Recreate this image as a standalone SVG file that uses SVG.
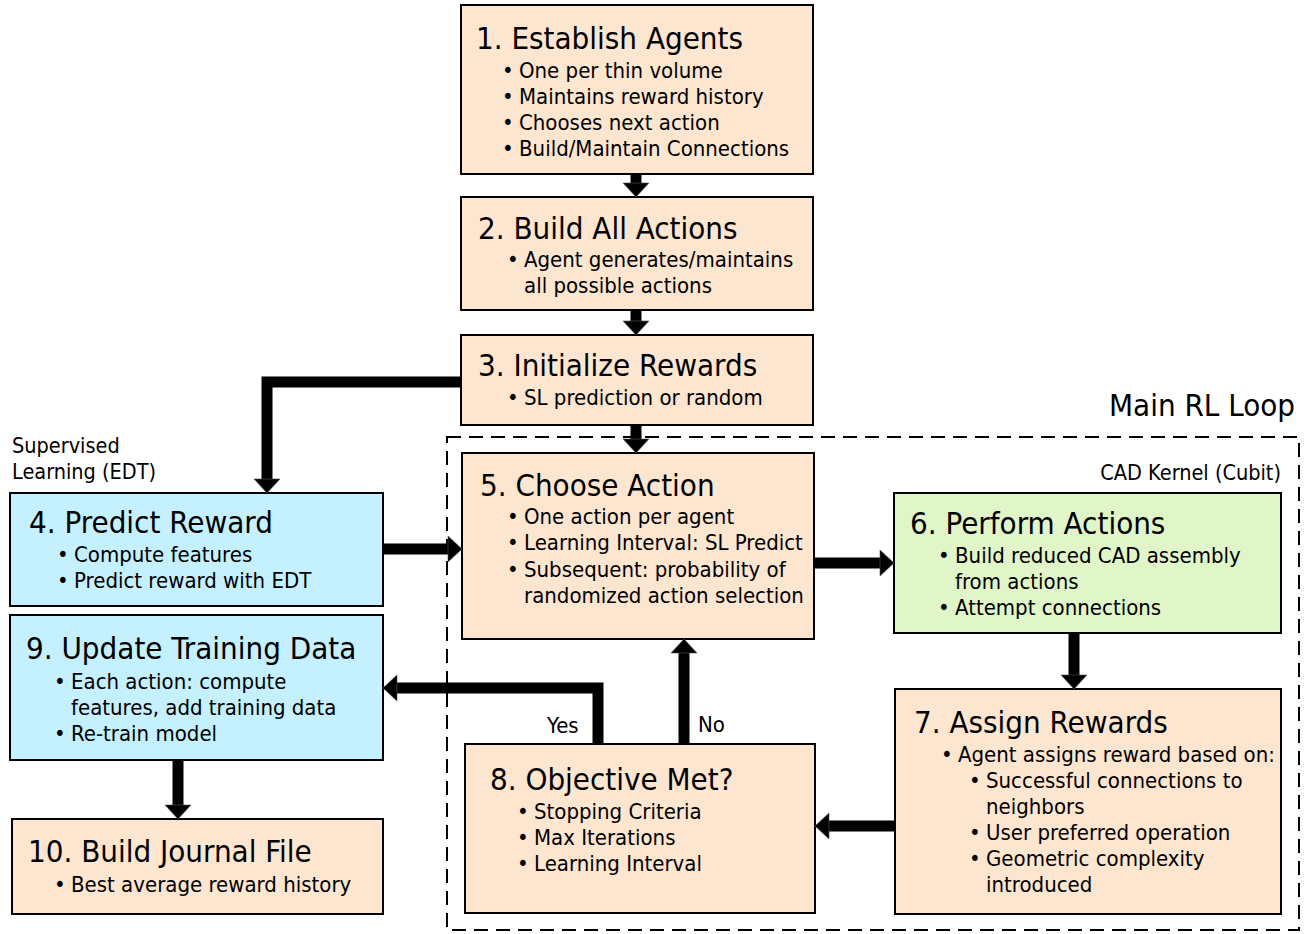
<svg xmlns="http://www.w3.org/2000/svg" width="1307" height="934" viewBox="0 0 1307 934">
<style>
text{font-family:"DejaVu Sans Condensed","DejaVu Sans",sans-serif;fill:#000}
.t{font-size:31px}
.b{font-size:22px}
.s{font-size:21.5px}
.peach{fill:#FDE6D0;stroke:#000;stroke-width:2}
.blue{fill:#C4F0FF;stroke:#000;stroke-width:2}
.green{fill:#E0F5C8;stroke:#000;stroke-width:2}
.dash{fill:none;stroke:#000;stroke-width:2;stroke-dasharray:14 8}
.c{fill:none;stroke:#000;stroke-width:11;stroke-linejoin:miter;stroke-linecap:butt}
.h{fill:#000;stroke:#555;stroke-width:0.6}
</style>
<rect x="0" y="0" width="1307" height="934" fill="#fff"/>
<g id="loop">
<rect class="dash" x="447" y="437" width="852" height="493"/>
<text class="t" x="1295" y="416" text-anchor="end">Main RL Loop</text>
<text class="s" x="1281" y="480" text-anchor="end">CAD Kernel (Cubit)</text>
</g>
<g id="sl-label">
<text class="s" x="12" y="453">Supervised</text>
<text class="s" x="12" y="479">Learning (EDT)</text>
</g>
<g id="n1">
<rect class="peach" x="461" y="5" width="352" height="169"/>
<text class="t" x="476" y="49">1. Establish Agents</text>
<text class="b" x="502" y="78">•</text><text class="b" x="519" y="78">One per thin volume</text>
<text class="b" x="502" y="104">•</text><text class="b" x="519" y="104">Maintains reward history</text>
<text class="b" x="502" y="130">•</text><text class="b" x="519" y="130">Chooses next action</text>
<text class="b" x="502" y="156">•</text><text class="b" x="519" y="156">Build/Maintain Connections</text>
</g>
<g id="n2">
<rect class="peach" x="461" y="197" width="352" height="113"/>
<text class="t" x="478" y="239">2. Build All Actions</text>
<text class="b" x="507" y="267">•</text><text class="b" x="524" y="267">Agent generates/maintains</text>
<text class="b" x="524" y="293">all possible actions</text>
</g>
<g id="n3">
<rect class="peach" x="461" y="335" width="352" height="90"/>
<text class="t" x="478" y="376">3. Initialize Rewards</text>
<text class="b" x="507" y="405">•</text><text class="b" x="524" y="405">SL prediction or random</text>
</g>
<g id="n4">
<rect class="blue" x="10" y="493" width="373" height="113"/>
<text class="t" x="29" y="533">4. Predict Reward</text>
<text class="b" x="57" y="562">•</text><text class="b" x="74" y="562">Compute features</text>
<text class="b" x="57" y="588">•</text><text class="b" x="74" y="588">Predict reward with EDT</text>
</g>
<g id="n5">
<rect class="peach" x="462" y="453" width="352" height="186"/>
<text class="t" x="480" y="496">5. Choose Action</text>
<text class="b" x="507" y="524">•</text><text class="b" x="524" y="524">One action per agent</text>
<text class="b" x="507" y="550">•</text><text class="b" x="524" y="550">Learning Interval: SL Predict</text>
<text class="b" x="507" y="577">•</text><text class="b" x="524" y="577">Subsequent: probability of</text>
<text class="b" x="524" y="603">randomized action selection</text>
</g>
<g id="n6">
<rect class="green" x="894" y="493" width="387" height="140"/>
<text class="t" x="910" y="534">6. Perform Actions</text>
<text class="b" x="938" y="563">•</text><text class="b" x="955" y="563">Build reduced CAD assembly</text>
<text class="b" x="955" y="589">from actions</text>
<text class="b" x="938" y="615">•</text><text class="b" x="955" y="615">Attempt connections</text>
</g>
<g id="n7">
<rect class="peach" x="895" y="689" width="386" height="225"/>
<text class="t" x="914" y="733">7. Assign Rewards</text>
<text class="b" x="941" y="762">•</text><text class="b" x="958" y="762">Agent assigns reward based on:</text>
<text class="b" x="969" y="788">•</text><text class="b" x="986" y="788">Successful connections to</text>
<text class="b" x="986" y="814">neighbors</text>
<text class="b" x="969" y="840">•</text><text class="b" x="986" y="840">User preferred operation</text>
<text class="b" x="969" y="866">•</text><text class="b" x="986" y="866">Geometric complexity</text>
<text class="b" x="986" y="892">introduced</text>
</g>
<g id="n8">
<rect class="peach" x="465" y="744" width="350" height="169"/>
<text class="t" x="490" y="790">8. Objective Met?</text>
<text class="b" x="517" y="819">•</text><text class="b" x="534" y="819">Stopping Criteria</text>
<text class="b" x="517" y="845">•</text><text class="b" x="534" y="845">Max Iterations</text>
<text class="b" x="517" y="871">•</text><text class="b" x="534" y="871">Learning Interval</text>
</g>
<g id="n9">
<rect class="blue" x="10" y="615" width="373" height="145"/>
<text class="t" x="26" y="659">9. Update Training Data</text>
<text class="b" x="54" y="689">•</text><text class="b" x="71" y="689">Each action: compute</text>
<text class="b" x="71" y="715">features, add training data</text>
<text class="b" x="54" y="741">•</text><text class="b" x="71" y="741">Re-train model</text>
</g>
<g id="n10">
<rect class="peach" x="12" y="819" width="371" height="95"/>
<text class="t" x="28" y="862">10. Build Journal File</text>
<text class="b" x="54" y="892">•</text><text class="b" x="71" y="892">Best average reward history</text>
</g>
<g id="connectors">
<path class="c" d="M636,175 V184"/><polygon class="h" points="623,183 649,183 636,197"/>
<path class="c" d="M636,311 V322"/><polygon class="h" points="623,321 649,321 636,335"/>
<path class="c" d="M636,426 V440"/><polygon class="h" points="623,439 649,439 636,453"/>
<path class="c" d="M460,382 H267 V480"/><polygon class="h" points="254,479 280,479 267,493"/>
<path class="c" d="M384,549 H449"/><polygon class="h" points="448,536 448,562 462,549"/>
<path class="c" d="M815,563 H881"/><polygon class="h" points="880,550 880,576 894,563"/>
<path class="c" d="M1074,634 V676"/><polygon class="h" points="1061,675 1087,675 1074,689"/>
<path class="c" d="M894,826 H828"/><polygon class="h" points="829,813 829,839 815,826"/>
<path class="c" d="M684,743 V652"/><polygon class="h" points="671,653 697,653 684,639"/>
<path class="c" d="M598,743 V688 H396"/><polygon class="h" points="397,675 397,701 383,688"/>
<path class="c" d="M178,761 V806"/><polygon class="h" points="165,805 191,805 178,819"/>
<text class="b" x="547" y="733">Yes</text>
<text class="b" x="698" y="732">No</text>
</g>
</svg>
